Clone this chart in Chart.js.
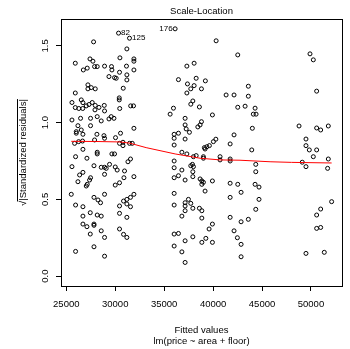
<!DOCTYPE html>
<html lang="en">
<head>
<meta charset="UTF-8">
<title>Scale-Location</title>
<script src="https://cdn.jsdelivr.net/npm/chart.js"></script>
<style>
  html, body { margin: 0; padding: 0; background: #fff; }
  canvas { display: block; }
</style>
</head>
<body>
<canvas id="myChart" width="350" height="349"></canvas>
<script>
// fitted values of lm(price ~ area + floor)
// first three are the labelled observations (82, 125, 176)
var fitted = [
  30340, 31460, 36120, 27790, 31190, 25920, 27420, 27720, 26740, 27140,
  27890, 28160, 28910, 29620, 29660, 30480, 31910, 31910, 31150, 31910,
  30440, 29360, 29930, 30100, 31190, 31190, 27210, 27210, 27550, 27960,
  30820, 25920, 30410, 30410, 25580, 25920, 26280, 26530, 26700, 26680,
  27040, 27320, 27650, 27960, 27930, 28340, 28880, 28910, 30460, 31580,
  31870, 25580, 26460, 27480, 28160, 28570, 29360, 29590, 29870, 31910,
  26190, 26530, 27480, 26020, 26020, 26700, 28130, 28850, 28910, 30030,
  30540, 27890, 25850, 26260, 26660, 30440, 30790, 30790, 31460, 31740,
  26700, 28160, 28160, 29660, 29930, 25950, 27110, 31560, 31300, 25580,
  27830, 28570, 28910, 29080, 29420, 30000, 30200, 28910, 30950, 26700,
  26360, 27480, 27380, 26190, 27140, 27040, 30890, 31910, 30000, 30440,
  28910, 31910, 25510, 27830, 28240, 28500, 31560, 31190, 30850, 31190,
  31560, 30440, 25950, 26700, 27450, 26700, 28160, 28570, 30440, 31190,
  26700, 27110, 27830, 27830, 28570, 27450, 28910, 30440, 30850, 31190,
  27830, 25950, 28910,
  40310, 42520, 37320, 38060, 36460, 37380, 38270, 39210, 38060, 37720,
  37320, 38810, 41330, 42140, 43600, 43600, 37930, 37720, 38600, 42520,
  43270, 35950, 44290, 35610, 39930, 44110, 44390, 37140, 37140, 37250,
  37580, 38810, 38670, 38440, 44010, 36020, 36460, 36020, 37140, 42140,
  40280, 40030, 39620, 39360, 39110, 39180, 41740, 43950, 36020, 36810,
  37320, 37990, 38270, 39010, 39010, 40710, 40710, 41740, 41740, 36020,
  36020, 37890, 37720, 37990, 36810, 44360, 44360, 37930, 37930, 36460,
  36020, 37140, 38670, 38850, 39010, 38850, 39930, 41740, 42520, 44290,
  44690, 36020, 39180, 42860, 41740, 44690, 36020, 37140, 37480, 37720,
  37140, 37930, 37140, 38600, 38850, 36810, 38850, 41740, 42860, 43600,
  44360, 39930, 39590, 42140, 36020, 36460, 37930, 37140, 39260, 38850,
  39930, 42480, 36020, 42860, 36810, 37140, 42860,
  49900, 50240, 50580, 48780, 50580, 50990, 51770, 49490, 49490, 49830,
  50580, 50240, 49110, 49490, 51770, 51700, 52110, 50990, 50580, 50580,
  50990, 49490, 51360
];

// sqrt(|standardized residuals|), same order as fitted
var sqrtStdRes = [
  1.583, 1.550, 1.611, 1.526, 1.480, 1.387, 1.415, 1.400, 1.343, 1.355,
  1.365, 1.365, 1.368, 1.365, 1.343, 1.422, 1.415, 1.400, 1.368, 1.343,
  1.328, 1.300, 1.293, 1.289, 1.311, 1.278, 1.246, 1.220, 1.228, 1.220,
  1.224, 1.193, 1.161, 1.148, 1.131, 1.098, 1.092, 1.148, 1.130, 1.092,
  1.109, 1.118, 1.131, 1.112, 1.083, 1.099, 1.112, 1.076, 1.092, 1.109,
  1.109, 1.017, 1.028, 1.028, 1.039, 1.011, 1.024, 1.039, 1.028, 0.963,
  0.980, 0.952, 0.980, 0.941, 0.931, 0.924, 0.924, 0.915, 0.898, 0.902,
  0.931, 0.887, 0.865, 0.876, 0.880, 0.865, 0.872, 0.850, 0.865, 0.865,
  0.826, 0.807, 0.796, 0.796, 0.796, 0.778, 0.768, 0.763, 0.745, 0.713,
  0.719, 0.709, 0.709, 0.702, 0.728, 0.711, 0.691, 0.663, 0.685, 0.676,
  0.659, 0.641, 0.626, 0.615, 0.598, 0.587, 0.641, 0.648, 0.593, 0.608,
  0.533, 0.533, 0.533, 0.513, 0.496, 0.478, 0.513, 0.500, 0.489, 0.470,
  0.452, 0.457, 0.463, 0.452, 0.413, 0.391, 0.398, 0.391, 0.409, 0.383,
  0.339, 0.322, 0.339, 0.331, 0.295, 0.274, 0.252, 0.307, 0.272, 0.252,
  0.191, 0.161, 0.130,
  1.533, 1.441, 1.368, 1.387, 1.280, 1.252, 1.289, 1.272, 1.241, 1.220,
  1.193, 1.220, 1.180, 1.180, 1.237, 1.172, 1.141, 1.120, 1.102, 1.100,
  1.107, 1.094, 1.094, 1.055, 1.050, 1.055, 1.055, 1.028, 0.985, 0.959,
  0.937, 1.006, 0.985, 0.972, 0.963, 0.924, 0.931, 0.898, 0.893, 0.920,
  0.892, 0.876, 0.850, 0.843, 0.837, 0.828, 0.861, 0.822, 0.854, 0.807,
  0.796, 0.778, 0.785, 0.778, 0.768, 0.778, 0.757, 0.763, 0.750, 0.750,
  0.706, 0.728, 0.719, 0.713, 0.691, 0.728, 0.680, 0.680, 0.648, 0.654,
  0.641, 0.626, 0.633, 0.620, 0.611, 0.598, 0.620, 0.605, 0.598, 0.598,
  0.580, 0.539, 0.554, 0.546, 0.513, 0.500, 0.463, 0.478, 0.500, 0.474,
  0.457, 0.442, 0.426, 0.442, 0.426, 0.391, 0.378, 0.383, 0.354, 0.370,
  0.435, 0.339, 0.307, 0.295, 0.274, 0.278, 0.256, 0.230, 0.246, 0.220,
  0.220, 0.250, 0.196, 0.207, 0.158, 0.089, 0.126,
  1.448, 1.409, 1.205, 0.978, 0.965, 0.952, 0.978, 0.893, 0.850, 0.822,
  0.822, 0.778, 0.742, 0.713, 0.763, 0.702, 0.485, 0.437, 0.398, 0.311,
  0.317, 0.148, 0.155
];

// red smoother line
var smoothX = [25510, 28000, 30500, 31500, 33160, 36120, 38670, 40710, 42750, 45820, 48000, 52110];
var smoothY = [0.878, 0.877, 0.874, 0.866, 0.837, 0.796, 0.768, 0.757, 0.755, 0.745, 0.741, 0.737];

// labelled points
var idLabels = ['82', '125', '176'];
var idIndex = [0, 1, 2];

var xTicks = [25000, 30000, 35000, 40000, 45000, 50000];
var yTicks = [0.0, 0.5, 1.0, 1.5];

var FONT = '"Liberation Sans", Arial, sans-serif';
var FS = 9.5;

Chart.defaults.font.family = FONT;
Chart.defaults.font.size = FS;
Chart.defaults.color = '#000';

var points = fitted.map(function (v, i) { return { x: v, y: sqrtStdRes[i] }; });
var smooth = smoothX.map(function (v, i) { return { x: v, y: smoothY[i] }; });

// box around plot region + radical bar on the y label
var boxPlugin = {
  id: 'box',
  afterDraw: function (chart) {
    var a = chart.chartArea, ctx = chart.ctx;
    ctx.save();
    ctx.strokeStyle = '#000';
    ctx.lineWidth = 1;
    ctx.strokeRect(Math.round(a.left) + 0.5, Math.round(a.top) + 0.5,
      Math.round(a.right - a.left), Math.round(a.bottom - a.top));

    // overbar of the square root
    var ys = chart.scales.y;
    var t = ys.options.title;
    var tx = ys.left + FS * 1.2 / 2 + t.padding.top;
    ctx.font = FS + 'px ' + FONT;
    var w = ctx.measureText(t.text).width;
    var wr = ctx.measureText('\u221a').width;
    var cy = (a.top + a.bottom) / 2;
    var bx = Math.round(tx - 0.74 * FS) + 0.5;
    ctx.beginPath();
    ctx.moveTo(bx, cy + w / 2 - wr * 0.85);
    ctx.lineTo(bx, cy - w / 2);
    ctx.stroke();
    ctx.restore();
  }
};

// observation numbers: R pos 4 = right of point, 2 = left
var idPlugin = {
  id: 'ids',
  afterDatasetsDraw: function (chart, args, opts) {
    var ctx = chart.ctx, xs = chart.scales.x, ys = chart.scales.y;
    ctx.save();
    ctx.font = '8px ' + FONT;
    ctx.fillStyle = '#000';
    ctx.textBaseline = 'middle';
    idIndex.forEach(function (k, j) {
      var px = xs.getPixelForValue(fitted[k]);
      var py = ys.getPixelForValue(sqrtStdRes[k]);
      if (opts.pos[j] === 4) {
        ctx.textAlign = 'left';
        ctx.fillText(idLabels[j], px + 2.5, py);
      } else {
        ctx.textAlign = 'right';
        ctx.fillText(idLabels[j], px - 2.5, py);
      }
    });
    ctx.restore();
  }
};

var tickGrid = {
  display: true,
  drawOnChartArea: false,
  drawTicks: true,
  tickLength: 5,
  color: '#000',
  tickColor: '#000',
  lineWidth: 1
};

new Chart(document.getElementById('myChart').getContext('2d'), {
  type: 'scatter',
  data: {
    datasets: [
      {
        label: 'smoother',
        data: smooth,
        showLine: true,
        borderColor: '#ff0000',
        borderWidth: 1,
        pointRadius: 0,
        fill: false,
        tension: 0
      },
      {
        label: 'residuals',
        data: points,
        pointStyle: 'circle',
        pointRadius: 2,
        pointHoverRadius: 2,
        borderWidth: 1,
        borderColor: '#000',
        backgroundColor: 'rgba(0,0,0,0)'
      }
    ]
  },
  options: {
    responsive: false,
    animation: false,
    devicePixelRatio: 1,
    layout: { padding: { left: 0, right: 8, top: 0, bottom: 0 } },
    plugins: {
      legend: { display: false },
      tooltip: { enabled: false },
      ids: { pos: [4, 4, 2] },
      title: {
        display: true,
        fullSize: false,
        text: 'Scale-Location',
        color: '#000',
        font: { size: FS, weight: 'normal' },
        padding: { top: 5.3, bottom: 2.3 }
      }
    },
    scales: {
      x: {
        type: 'linear',
        position: 'bottom',
        min: 24460,
        max: 53170,
        afterBuildTicks: function (s) { s.ticks = xTicks.map(function (v) { return { value: v }; }); },
        afterFit: function (s) { s.height = 63; },
        ticks: {
          autoSkip: false,
          maxRotation: 0,
          padding: 7.6,
          color: '#000',
          callback: function (v) { return String(v); }
        },
        grid: tickGrid,
        border: { display: false },
        title: {
          display: true,
          text: ['Fitted values', 'lm(price ~ area + floor)'],
          color: '#000',
          padding: { top: 0, bottom: 2 }
        }
      },
      y: {
        type: 'linear',
        position: 'left',
        min: -0.0644,
        max: 1.675,
        afterBuildTicks: function (s) { s.ticks = yTicks.map(function (v) { return { value: v }; }); },
        afterFit: function (s) { s.width = 61; },
        ticks: {
          autoSkip: false,
          minRotation: 90,
          maxRotation: 90,
          crossAlign: 'center',
          padding: 3.7,
          color: '#000',
          callback: function (v) { return v.toFixed(1); }
        },
        grid: tickGrid,
        border: { display: false },
        title: {
          display: true,
          text: '\u221a|Standardized residuals|',
          color: '#000',
          padding: { top: 18, bottom: 0 }
        }
      }
    }
  },
  plugins: [boxPlugin, idPlugin]
});
</script>
</body>
</html>
